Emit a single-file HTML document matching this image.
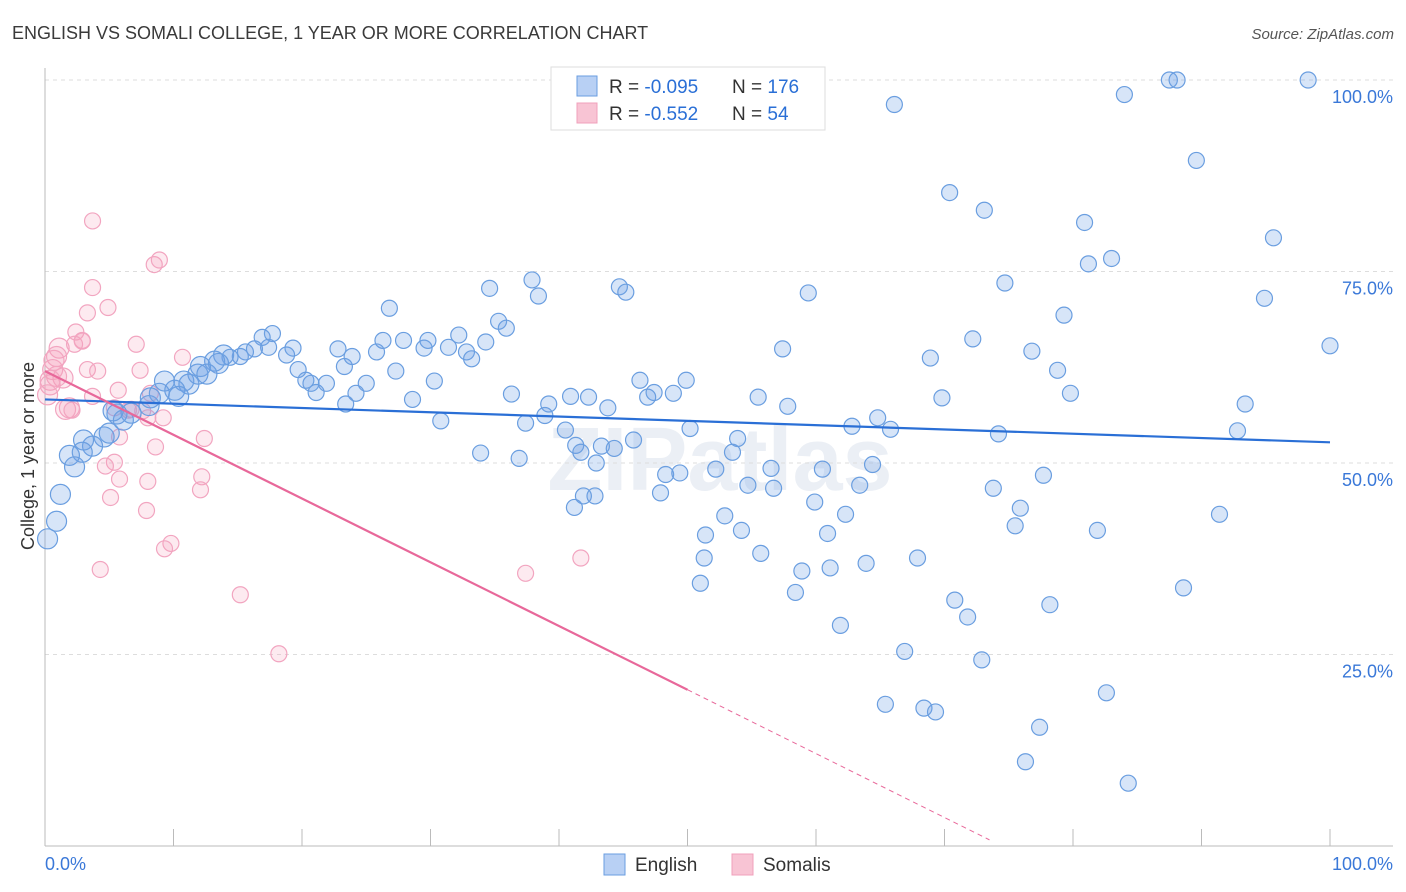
<!DOCTYPE html>
<html><head><meta charset="utf-8"><style>
body{margin:0;background:#fff;font-family:"Liberation Sans",sans-serif;}
#wrap{position:relative;width:1406px;height:892px;overflow:hidden;}
</style></head><body>
<div id="wrap">
<svg id="chart" width="1406" height="892">
<text x="12" y="39" font-size="18" fill="#3a3a3a">ENGLISH VS SOMALI COLLEGE, 1 YEAR OR MORE CORRELATION CHART</text>
<text x="1394" y="39" font-size="15" fill="#555" font-style="italic" text-anchor="end">Source: ZipAtlas.com</text>
<text x="720" y="490" font-size="90" fill="#ebeff5" text-anchor="middle" font-weight="bold">ZIPatlas</text>
<g id="grid"></g>
<g id="axes"></g>
<g id="pts"></g>
<g id="lines"></g>
<text transform="translate(34,456) rotate(-90)" font-size="18" fill="#333" text-anchor="middle">College, 1 year or more</text>
<g>
<rect x="551" y="67" width="274" height="63" fill="#fff" stroke="#ddd"/>
<rect x="577" y="76" width="20" height="20" fill="#b8d0f4" stroke="#6a9ee0"/>
<rect x="577" y="103" width="20" height="20" fill="#f8c4d4" stroke="#f0a0bb"/>
<text x="609" y="93" font-size="19" fill="#333">R = <tspan fill="#2a6fd6">-0.095</tspan><tspan x="732">N = </tspan><tspan fill="#2a6fd6">176</tspan></text>
<text x="609" y="120" font-size="19" fill="#333">R = <tspan fill="#2a6fd6"> -0.552</tspan><tspan x="732">N = </tspan><tspan fill="#2a6fd6"> 54</tspan></text>
</g>
<g>
<rect x="604" y="854" width="21" height="21" fill="#b8d0f4" stroke="#6a9ee0"/>
<text x="635" y="871" font-size="19" fill="#333">English</text>
<rect x="732" y="854" width="21" height="21" fill="#f8c4d4" stroke="#f0a0bb"/>
<text x="763" y="871" font-size="19" fill="#333">Somalis</text>
</g>
</svg>
</div>
<script>
const yTicks=[25,50,75,100];
const yTickLabels=["25.0%","50.0%","75.0%","100.0%"];
const xTicks=[0,10,20,30,40,50,60,70,80,90,100];
const englishX=[87.5,88.1,98.3,84.0,66.1,89.6,70.4,73.1,80.9,95.6,83.0,81.2,74.7,94.9,59.4,44.7,45.2,37.9,38.4,34.6,26.8,79.3,35.3,35.9,100,72.2,57.4,76.8,68.9,78.8,79.8,69.8,93.4,92.8,74.2,55.5,57.8,62.8,64.8,65.8,50.2,46.3,49.9,47.4,48.9,46.9,40.9,42.3,43.8,39.2,38.9,37.4,40.5,43.3,45.8,44.3,41.3,36.3,33.9,36.9,30.8,30.3,28.6,27.3,25.8,26.3,27.9,29.5,29.8,31.4,32.2,32.8,33.2,34.3,25.0,24.2,23.4,23.3,23.9,22.8,21.9,20.7,20.3,21.1,19.7,19.3,18.8,17.7,16.9,17.4,16.3,15.6,15.2,14.4,13.9,13.2,12.1,11.9,12.6,13.5,10.8,11.2,9.3,10.1,10.4,8.9,8.1,8.2,6.7,5.6,6.1,5.3,5.0,4.6,3.7,3.0,2.9,1.9,2.3,1.2,0.9,0.2,42.8,41.7,42.9,41.9,41.2,47.9,48.3,49.4,52.2,53.5,53.9,54.7,56.5,56.7,60.5,59.9,63.4,64.4,51.4,52.9,54.2,51.3,51.0,55.7,58.4,58.9,60.9,62.3,61.1,63.9,61.9,66.9,67.9,70.8,71.8,72.9,73.8,75.9,75.5,77.7,81.9,78.2,88.6,91.4,82.6,77.4,76.3,84.3,65.4,68.4,69.3];
const englishY=[100,100,100,98.1,96.8,89.5,85.3,83.0,81.4,79.4,76.7,76.0,73.5,71.5,72.2,73.0,72.3,73.9,71.8,72.8,70.2,69.3,68.5,67.6,65.3,66.2,64.9,64.6,63.7,62.1,59.1,58.5,57.7,54.2,53.8,58.6,57.4,54.8,55.9,54.4,54.5,60.8,60.8,59.2,59.1,58.6,58.7,58.6,57.2,57.7,56.2,55.2,54.3,52.2,53.0,51.9,52.3,59.0,51.3,50.6,55.5,60.7,58.3,62.0,64.5,66.0,66.0,65.0,66.0,65.1,66.7,64.5,63.6,65.8,60.4,59.1,57.7,62.6,63.9,64.9,60.4,60.4,60.8,59.2,62.2,65.0,64.1,66.9,66.4,65.1,64.9,64.5,63.9,63.8,64.1,63.3,62.6,61.6,61.6,63.0,60.7,60.3,60.7,59.5,58.7,59.1,57.5,58.5,56.5,56.4,55.6,56.8,53.9,53.4,52.2,53.0,51.4,51.0,49.5,45.9,42.4,40.1,45.7,51.4,50.0,45.7,44.2,46.1,48.5,48.7,49.2,51.4,53.2,47.1,49.3,46.7,49.2,44.9,47.1,49.8,40.6,43.1,41.2,37.6,34.3,38.2,33.1,35.9,40.8,43.3,36.3,36.9,28.8,25.4,37.6,32.1,29.9,24.3,46.7,44.1,41.8,48.4,41.2,31.5,33.7,43.3,20.0,15.5,11.0,8.2,18.5,18.0,17.5];
const somaliX=[3.7,3.7,4.9,3.3,2.9,2.4,1.1,2.3,2.9,7.1,8.5,8.9,10.7,0.9,0.6,1.4,0.9,0.4,3.3,4.1,7.4,5.7,3.7,8.2,5.4,1.9,1.6,2.1,6.5,7.6,9.2,8.0,5.8,12.4,8.6,5.4,4.7,5.8,8.0,12.2,12.1,5.1,7.9,9.8,9.3,4.3,15.2,18.2,37.4,41.7,0.7,0.4,6.7,0.2];
const somaliY=[81.6,72.9,70.3,69.6,66.0,67.1,65.0,65.5,65.9,65.5,75.9,76.5,63.8,63.9,62.2,61.1,61.3,60.8,62.2,62.0,62.1,59.5,58.7,59.1,57.2,57.2,57.0,56.9,56.9,56.8,55.9,55.9,53.4,53.2,52.1,50.1,49.6,47.9,47.6,48.2,46.5,45.5,43.8,39.5,38.8,36.1,32.8,25.1,35.6,37.6,63.4,60.2,57.0,58.9];
const englishTrend=[58.3,52.7];
const somaliTrend=[62.0,20.4,0.8];
const somaliTrendX=[0,50,73.5];

const NS="http://www.w3.org/2000/svg";
const X0=45,X1=1330,Y0=846,Y100=80;
const sx=v=>X0+(X1-X0)*v/100;
const sy=v=>Y0-(Y0-Y100)*v/100;
function mk(tag,attrs,parent){const e=document.createElementNS(NS,tag);for(const k in attrs)e.setAttribute(k,attrs[k]);parent.appendChild(e);return e;}
const grid=document.getElementById('grid'),axes=document.getElementById('axes'),pts=document.getElementById('pts'),lines=document.getElementById('lines');
yTicks.forEach((t,i)=>{
 const l=mk('line',{x1:X0,x2:1393,y1:sy(t),y2:sy(t),stroke:'#ddd','stroke-dasharray':'4,4'},grid);
 
 
 const tx=mk('text',{x:1393,y:sy(t)+23,'font-size':18,fill:'#3a78d8','text-anchor':'end'},axes);
 tx.textContent=yTickLabels[i];
 
 
});
let a=mk('line',{x1:X0,x2:X0,y1:68,y2:Y0,stroke:'#bbb'},axes);


a=mk('line',{x1:X0,x2:1393,y1:Y0,y2:Y0,stroke:'#bbb'},axes);


xTicks.forEach(t=>{
 const l=mk('line',{x1:sx(t),x2:sx(t),y1:829,y2:Y0,stroke:'#bbb'},axes);
 
 
});
let t0=mk('text',{x:45,y:870,'font-size':18,fill:'#3a78d8'},axes);t0.textContent='0.0%';


t0=mk('text',{x:1393,y:870,'font-size':18,fill:'#3a78d8','text-anchor':'end'},axes);t0.textContent='100.0%';



somaliX.forEach((x,i)=>{
 const c=mk('circle',{cx:sx(x),cy:sy(somaliY[i]),r:x<2?10:8,fill:'rgba(244,160,188,0.22)',stroke:'#f2a5c0','stroke-width':1.2},pts);
 
 
});
englishX.forEach((x,i)=>{
 const c=mk('circle',{cx:sx(x),cy:sy(englishY[i]),r:x<14?10:8,fill:'rgba(110,160,230,0.28)',stroke:'#6a9ee0','stroke-width':1.2},pts);
 
 
});
let ln=mk('line',{x1:sx(0),y1:sy(englishTrend[0]),x2:sx(100),y2:sy(englishTrend[1]),stroke:'#2a6fd6','stroke-width':2.2},lines);


ln=mk('line',{x1:sx(somaliTrendX[0]),y1:sy(somaliTrend[0]),x2:sx(somaliTrendX[1]),y2:sy(somaliTrend[1]),stroke:'#e8689a','stroke-width':2.2},lines);


ln=mk('line',{x1:sx(somaliTrendX[1]),y1:sy(somaliTrend[1]),x2:sx(somaliTrendX[2]),y2:sy(somaliTrend[2]),stroke:'#e8689a','stroke-width':1,'stroke-dasharray':'5,4'},lines);


</script>
</body></html>
